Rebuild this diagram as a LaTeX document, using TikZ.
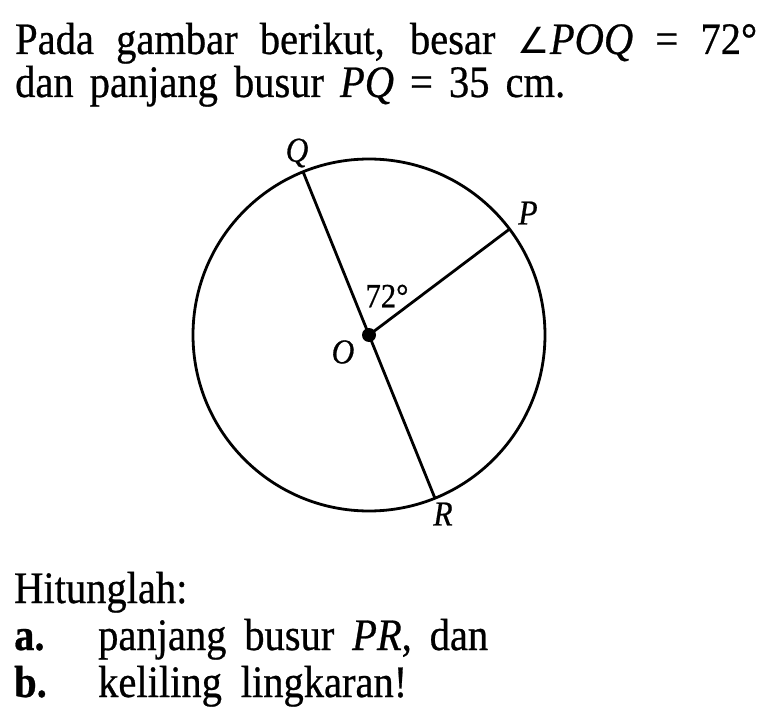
\documentclass[tikz,border=0pt]{standalone}
\usepackage{fontspec}
\usetikzlibrary{calc}
\setmainfont{Liberation Serif}[FakeStretch=0.9,FakeBold=0.6]
\newfontfamily\symf{DejaVu Sans}
\begin{document}
\begin{tikzpicture}[x=1pt,y=-1pt,
  txt/.style={anchor=base west,inner sep=0pt,font=\fontsize{45}{48}\selectfont},
  lbl/.style={inner sep=0pt,font=\fontsize{35}{38}\selectfont\itshape},
  geo/.style={line width=2.8pt}]
\useasboundingbox (0,0) rectangle (764,717);
% text
\node[txt] (l1) at (15,54) {\makebox[742pt][s]{Pada gambar berikut, besar {\symf\fontsize{36}{40}\selectfont ∠}\textit{POQ} = 72°}};
\node[txt] (l2) at (15,97) {\makebox[550pt][s]{dan panjang busur \textit{PQ} = 35 cm.}};
\node[txt] (h) at (14,603) {Hitunglah:};
\node[txt] (a) at (14,650) {\textbf{a.}};
\node[txt] (at) at (98,650) {\makebox[390pt][s]{panjang busur \textit{PR}, dan}};
\node[txt] (b) at (14,697) {\textbf{b.}};
\node[txt] (bt) at (98,697) {\makebox[309pt][s]{keliling lingkaran!}};
% geometry
\coordinate (O) at (369,335);
\draw[geo] (O) circle[radius=176];
\coordinate (Q) at ($(O)+(-112:176)$);
\coordinate (P) at ($(O)+(-37:176)$);
\coordinate (R) at ($(O)+(-292:176)$);
\draw[geo] (Q) -- (O) -- (R);
\draw[geo] (O) -- (P);
\fill (O) circle[radius=7];
% labels
\node[lbl] (lq) at (297,153) {Q};
\node[lbl] (lp) at (528,213) {P};
\node[lbl] (lo) at (343,352) {O};
\node[lbl] (lr) at (443,514) {R};
\node[lbl,font=\fontsize{34}{36}\selectfont] (la) at (387,296) {72°};
\end{tikzpicture}
\end{document}
